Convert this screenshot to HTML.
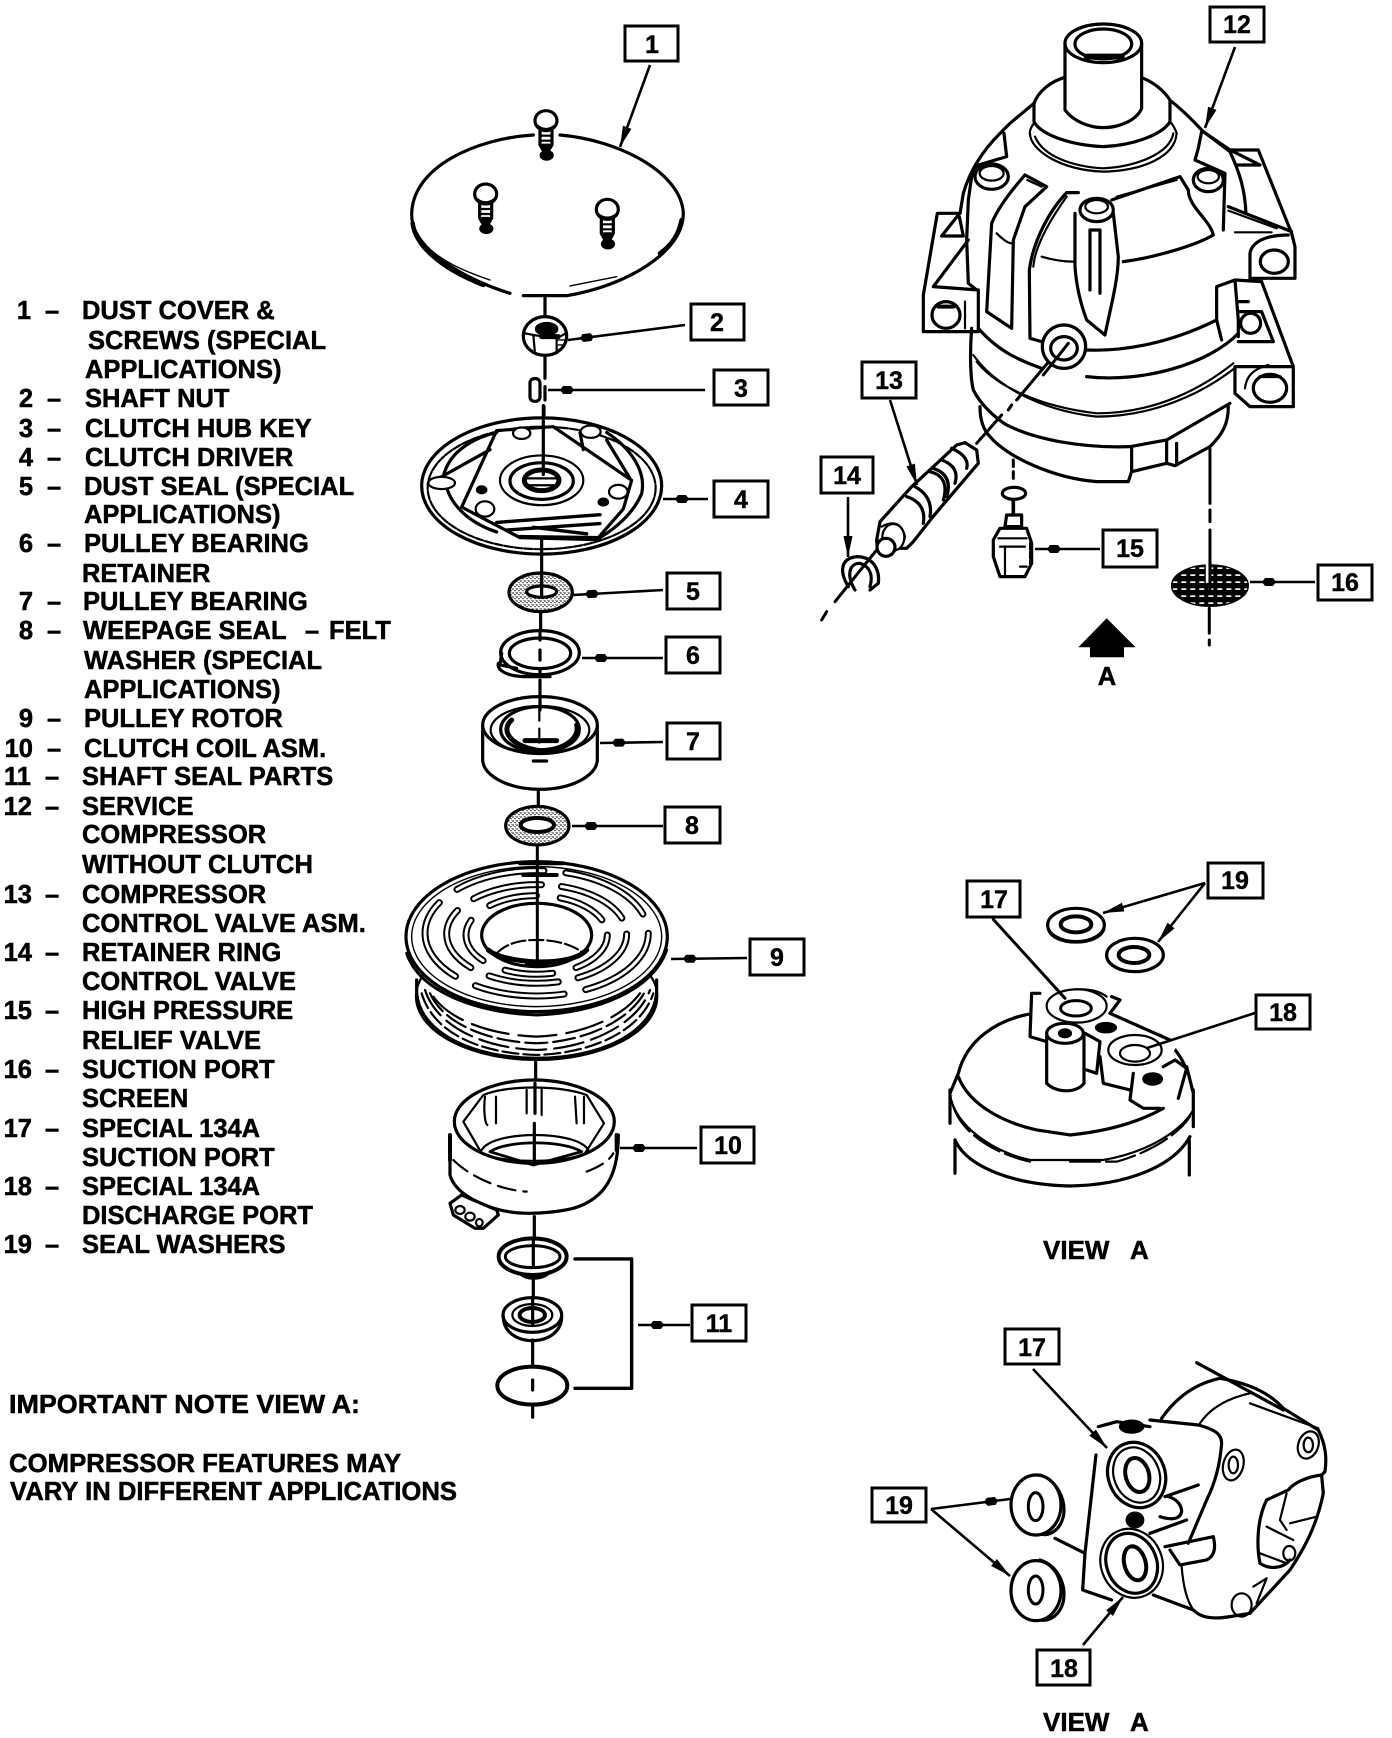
<!DOCTYPE html>
<html><head><meta charset="utf-8"><style>
html,body{margin:0;padding:0;background:#fff}
svg{display:block}
svg *{vector-effect:non-scaling-stroke}
.d{fill:none;stroke:#000;stroke-width:2.2;stroke-linejoin:round;stroke-linecap:round}
.t{fill:#000;stroke:#000;stroke-width:.5;font-family:"Liberation Sans",sans-serif;font-weight:bold;font-size:25.5px}
.l{fill:#000;stroke:#000;stroke-width:.4;font-family:"Liberation Sans",sans-serif;font-weight:bold;font-size:25px;text-anchor:middle}
.b{fill:#fff;stroke:#000;stroke-width:3}
.a{fill:none;stroke:#000;stroke-width:2.6}
.w{fill:#fff}
.k{fill:#000}
.h{stroke-width:3.2}
.n{stroke-width:1.4}
</style></head><body>
<svg width="1392" height="1738" viewBox="0 0 1392 1738" xmlns="http://www.w3.org/2000/svg">
<defs>
<marker id="m" markerUnits="userSpaceOnUse" markerWidth="24" markerHeight="12" refX="21" refY="6" orient="auto" overflow="visible"><path d="M0 1.5L21 6L0 10.5Z" fill="#000"/></marker>
<marker id="z" markerUnits="userSpaceOnUse" markerWidth="32" markerHeight="12" refX="26" refY="6" orient="auto" overflow="visible"><path d="M0 6L3 2H11L14 6L11 10H3Z" fill="#000"/></marker>
<pattern id="dots" patternUnits="userSpaceOnUse" width="12" height="12"><rect width="12" height="12" fill="#fff"/><circle cx="3" cy="3" r="2.4" fill="#000"/><circle cx="9" cy="8" r="2" fill="#000"/><circle cx="10" cy="1" r="1" fill="#000"/></pattern>
<pattern id="mesh" patternUnits="userSpaceOnUse" width="27" height="21"><rect width="27" height="21" fill="#000"/><rect x="4" y="4" width="15" height="5" fill="#fff"/></pattern>
<g id="screw" class="d"><ellipse cx="0" cy="0" rx="33" ry="30" class="d w h"/><path d="M-26 15C-10 28 10 28 26 15" /><path class="h" d="M-18 28V72L-2 100H2L18 72V28"/><path d="M-16 45H16M-16 60H16"/><path d="M-10 72L0 100L10 72Z" class="k"/><ellipse cx="2" cy="104" rx="18" ry="13" class="k"/></g>
</defs>

<!-- COVER / NUT / KEY -->
<g transform="translate(410,120) scale(.3333)" class="d">
<path class="h" d="M370 45C200 55 5 140 5 285C5 390 170 480 300 520M340 527H470C640 500 820 400 820 280C815 160 630 60 450 45"/>
<path stroke-width="4.5" d="M8 310C15 370 80 440 220 495M815 300C805 350 780 380 750 400"/>
<path class="n" d="M40 370C90 420 150 450 240 480M480 498L620 470"/>
<use href="#screw" x="408" y="2"/><use href="#screw" x="227" y="222"/><use href="#screw" x="592" y="268"/>
<path class="h" d="M405 530V592M405 705V775M405 800V840M402 860V885"/>
<ellipse cx="405" cy="648" rx="65" ry="58" class="h w"/>
<path d="M345 640L370 645L375 700M370 645L440 655V700M440 655L468 640"/>
<ellipse cx="410" cy="627" rx="32" ry="18" class="k"/><path stroke-width="5" d="M395 650H445"/>
<path class="n" d="M445 660H465M445 675H462"/>
<rect x="360" y="776" width="30" height="68" rx="13" class="h"/>
</g>

<!-- DRIVER -->
<g transform="translate(400,0) scale(.3333,.3827)" class="d">
<path class="h" d="M430 1060V1092"/>
<ellipse cx="425" cy="1270" rx="360" ry="178" class="h"/>
<ellipse cx="425" cy="1275" rx="342" ry="160" stroke-dasharray="8 2"/>
<path d="M130 1245C150 1170 240 1140 290 1130M620 1130C690 1170 740 1230 725 1290C700 1340 650 1380 590 1410M140 1275C160 1330 220 1370 290 1390" class="h"/>
<path class="h" d="M290 1125L185 1325L360 1405L590 1410L670 1330L695 1255L460 1115ZM85 1265L270 1175M620 1150L690 1250M540 1130L550 1175"/>
<ellipse cx="425" cy="1255" rx="125" ry="65"/><ellipse cx="425" cy="1257" rx="95" ry="48" class="h"/>
<ellipse cx="425" cy="1255" rx="52" ry="27" stroke-width="5"/>
<path d="M380 1250H470M385 1268H465"/>
<path class="h" d="M430 1100V1240"/>
<ellipse cx="365" cy="1132" rx="26" ry="15" class="w"/><ellipse cx="572" cy="1128" rx="30" ry="16" class="w"/><ellipse cx="125" cy="1262" rx="40" ry="16" class="w"/><ellipse cx="655" cy="1285" rx="28" ry="18" class="w"/><ellipse cx="255" cy="1330" rx="28" ry="20" class="w"/>
<ellipse cx="245" cy="1280" rx="14" ry="9" class="k"/><ellipse cx="610" cy="1312" rx="14" ry="9" class="k"/>
<path stroke-width="3.4" d="M290 1365L600 1345M320 1385L600 1368M360 1402L600 1405M400 1378L560 1395"/>
</g>

<!-- PARTS 5-9 -->
<g transform="translate(400,560) scale(.3333)" class="d">
<path class="h" d="M425 -60V40M422 160V210M420 360V410M415 690V735"/>
<ellipse cx="422" cy="97" rx="95" ry="58" class="h" style="fill:url(#dots)"/>
<ellipse cx="425" cy="95" rx="45" ry="17" class="w h"/>
<path class="h" d="M425 40V105"/>
<ellipse cx="420" cy="278" rx="118" ry="66" class="h"/><ellipse cx="420" cy="280" rx="92" ry="46" class="h"/>
<path d="M295 310C290 330 320 350 380 350H450M305 280L300 315L350 325" class="h"/><path class="h" d="M420 220V240M420 270V300M420 325V345"/>
<ellipse cx="420" cy="495" rx="172" ry="85" class="h"/>
<path class="h" d="M248 500V600C250 650 330 688 420 688C510 688 590 650 592 600V500"/>
<ellipse cx="420" cy="510" rx="148" ry="72"/><ellipse cx="420" cy="508" rx="118" ry="68" class="h"/>
<path stroke-width="5" d="M335 480C300 510 330 560 420 572C500 570 540 530 530 495"/>
<path d="M375 542H470" stroke-width="5"/>
<path d="M418 440V570" stroke-dasharray="14 8"/>
<path class="h" d="M420 410V450M400 603H440"/>
<ellipse cx="412" cy="797" rx="95" ry="58" style="fill:url(#dots)" class="h"/><ellipse cx="412" cy="795" rx="50" ry="21" class="w" stroke-width="4"/>
<ellipse cx="410" cy="1310" rx="362" ry="190" class="w"/>
<path d="M50 1260V1300C60 1420 220 1495 410 1495C600 1495 760 1420 770 1300V1260" class="h"/>
<path d="M75 1290C110 1400 250 1465 410 1470C570 1465 715 1390 750 1290" stroke-dasharray="30 8"/>
<path d="M90 1300C130 1390 260 1445 410 1450C560 1445 690 1380 735 1295" stroke-dasharray="22 6"/>
<path d="M65 1300C100 1420 240 1480 410 1485C580 1480 725 1410 760 1300" stroke-dasharray="16 5"/>
<path d="M100 1310C150 1380 270 1425 410 1430C550 1425 670 1370 720 1300" stroke-dasharray="38 10"/>
<ellipse cx="410" cy="1130" rx="392" ry="225" class="h w"/>
<ellipse cx="410" cy="1130" rx="375" ry="210" class="n"/>
<path d="M20 1180C60 1300 240 1360 410 1365C590 1360 760 1290 800 1170" stroke-width="3"/>
<ellipse cx="410" cy="1120" rx="335" ry="188" style="stroke-width:7;stroke-dasharray:90 22;stroke-linecap:round"/>
<ellipse cx="410" cy="1120" rx="335" ry="188" style="stroke:#fff;stroke-width:3;stroke-dasharray:90 22;stroke-linecap:round"/>
<ellipse cx="410" cy="1122" rx="270" ry="148" style="stroke-width:7;stroke-dasharray:70 20;stroke-linecap:round"/>
<ellipse cx="410" cy="1122" rx="270" ry="148" style="stroke:#fff;stroke-width:3;stroke-dasharray:70 20;stroke-linecap:round"/>
<ellipse cx="410" cy="1125" rx="212" ry="118" style="stroke-width:7;stroke-dasharray:48 24;stroke-linecap:round"/>
<ellipse cx="410" cy="1125" rx="212" ry="118" style="stroke:#fff;stroke-width:3;stroke-dasharray:48 24;stroke-linecap:round"/>
<ellipse cx="410" cy="1125" rx="165" ry="95" class="h w"/>
<path d="M290 1180C320 1150 360 1140 410 1140C470 1140 520 1155 550 1180" stroke-dasharray="14 4"/>
<path d="M265 1170C310 1210 510 1225 560 1170" stroke-width="5"/>
<path stroke-width="3" d="M412 860V1215"/>
<path stroke-width="4" d="M360 910H490M370 945H470M380 1215H440"/>
</g>

<!-- PARTS 10-11 -->
<g transform="translate(400,1060) scale(.3333)" class="d">
<path class="h" d="M407 0V60M403 470V535M400 650V715M398 840V915M398 960V990M398 1040V1072"/>
<path class="h" d="M150 225V345C170 420 300 450 300 450C400 475 520 445 520 445C620 415 655 340 655 225"/>
<ellipse cx="403" cy="185" rx="240" ry="125" class="h"/>
<path d="M190 185L250 105C320 75 480 75 560 105L612 190L555 280C500 310 300 310 245 280Z"/>
<path d="M245 270C280 210 530 210 565 270"/>
<path d="M270 275C320 240 490 240 545 275L400 315Z" stroke-width="2.8"/>
<path d="M255 110C250 150 255 190 262 195M288 110V190M380 90V160M425 85V165M525 110L530 190M552 110V190"/>
<path class="h" d="M405 70V160M403 190V310"/>
<path stroke-width="4" d="M150 225V300M650 225V270"/>
<path d="M160 300C210 350 300 390 380 395M560 335C600 320 630 300 640 280" stroke-dasharray="18 8"/>
<path class="h w" d="M185 405L150 430L160 465L225 505L250 505L295 465L290 450Z"/>
<ellipse cx="180" cy="450" rx="14" ry="12"/><ellipse cx="210" cy="470" rx="14" ry="12"/><ellipse cx="238" cy="488" rx="10" ry="11"/>
<ellipse cx="398" cy="590" rx="102" ry="55" stroke-width="4"/><ellipse cx="398" cy="590" rx="82" ry="33" stroke-width="3"/>
<path class="h" d="M360 640C380 660 430 660 450 635"/>
<path class="h" d="M400 540V620"/>
<ellipse cx="397" cy="765" rx="88" ry="52" class="h"/><ellipse cx="397" cy="765" rx="60" ry="33"/><ellipse cx="397" cy="765" rx="38" ry="21" stroke-width="4"/>
<path class="h" d="M310 770C310 815 350 842 397 842C445 842 485 815 485 770"/>
<path class="h" d="M398 720V795"/>
<ellipse cx="397" cy="977" rx="105" ry="57" stroke-width="4"/>
<path stroke-width="3.4" d="M525 597H695V985H525"/>
</g>

<!-- COMPRESSOR LOWER -->
<g transform="translate(820,300) scale(.3333)" class="d">
<path class="h" d="M455 85C450 150 450 230 460 270C480 310 520 350 560 375C650 420 790 445 930 440L1040 420L1230 310"/>
<path d="M460 165C520 250 650 330 830 350C1000 350 1150 280 1250 200M470 185C530 260 660 320 830 340C1000 340 1140 270 1240 190"/>
<path class="h" d="M480 320C480 360 490 390 510 410C560 470 700 535 830 545H925L935 515L1040 490L1065 497L1170 440C1210 400 1225 370 1225 320"/>
<path d="M935 445V515M1040 425V490M1070 430V495" class="h"/>
<path stroke-width="3" d="M745 115L590 300M575 315L565 330M545 345L470 430"/>
<path class="w h" d="M410 435L435 428L470 450L475 490L360 625L335 655L280 725L260 745L230 745C190 770 170 750 170 720L180 665L275 560L340 500Z"/>
<path d="M395 445Q450 470 440 505M365 480Q420 500 405 550M340 505Q400 525 380 590M330 515Q390 530 370 600M285 560Q340 590 330 650M260 590Q320 610 310 670" class="h"/>
<path d="M185 680Q240 650 255 710Q250 740 225 745"/>
<ellipse cx="220" cy="712" rx="33" ry="40" class="w"/><ellipse cx="198" cy="742" rx="27" ry="27" class="w h"/>
<path stroke-width="3" d="M170 750L45 905M20 935L5 960"/>
<path class="h" d="M85 860C55 810 65 775 110 770C160 770 180 810 175 850L150 870M105 870C80 830 85 790 120 790C150 800 160 825 150 860"/>
<path stroke-width="3" d="M580 480V500M580 515V535"/>
<ellipse cx="582" cy="580" rx="35" ry="18" class="h"/>
<path stroke-width="3.6" d="M580 600V640"/>
<path class="h" d="M560 645H605V680H555Z"/>
<path class="h" d="M540 685H620L635 730V790L615 830H540L520 770V720Z"/>
<path d="M535 715H620M540 740H615M555 745V830M600 800H620"/>
<path stroke-width="4" d="M633 730V790" stroke-dasharray="6 3"/>
<path stroke-width="3" d="M1170 445V610M1170 630V665M1170 690V790M1168 925V1000M1168 1020V1035"/>
<ellipse cx="1170" cy="857" rx="115" ry="62" style="fill:url(#mesh)" class="n"/>
<path stroke="#fff" stroke-width="3" d="M1162 795V845" style="stroke:#fff"/>
<path stroke-width="3" d="M1170 790V870"/>
<path class="k" style="stroke:none" d="M860 955L947 1042H912V1072H810V1042H775Z"/>
</g>

<!-- COMPRESSOR UPPER -->
<g transform="translate(910,0) scale(.3333)" class="d">
<path class="h" d="M465 130V330C490 365 540 383 580 383C630 383 680 360 695 325V130"/>
<ellipse cx="580" cy="130" rx="115" ry="58" class="h"/><ellipse cx="580" cy="132" rx="85" ry="45" class="h"/>
<path stroke-width="6" d="M530 170H635"/>
<path class="h" d="M465 232C420 245 385 275 372 310V365C390 400 470 435 580 440C680 435 760 400 780 365V300C760 270 735 250 700 235"/>
<path d="M360 400C360 450 450 510 580 515C700 512 795 470 800 400C795 385 790 375 780 365M372 370C360 385 358 395 360 405M375 410C400 470 490 500 580 505C680 500 780 460 790 400"/>
<path class="h" d="M372 310L300 370L270 400C220 450 180 510 160 580L150 640M785 305C830 340 860 375 880 395L960 455C990 520 1005 570 1008 640"/>
<path class="h" d="M282 400L290 470L205 495L185 530L175 600L170 720L175 850L200 870M875 395L865 445L855 480L945 520L940 690"/>
<path class="h" d="M880 395L960 450H1045L1145 700L1155 740V835H1020V760C1025 730 1060 705 1135 705M960 450L1050 495H980M955 620L1145 695"/>
<path d="M955 632L1100 685M975 697H1085"/>
<ellipse cx="1093" cy="785" rx="42" ry="35" class="h"/>
<path class="h" d="M150 640H82L40 885V995H205V870L70 860L175 720M145 645L95 708H160L148 650"/>
<ellipse cx="108" cy="945" rx="42" ry="40" class="h"/><path stroke-width="4" d="M85 920H130"/><path d="M165 905V985"/>
<ellipse cx="245" cy="530" rx="50" ry="38" class="w h"/><ellipse cx="245" cy="520" rx="36" ry="22"/>
<ellipse cx="895" cy="540" rx="45" ry="35" class="w h"/><ellipse cx="895" cy="530" rx="32" ry="20"/>
<path class="h" d="M345 525L410 560L345 620L310 720L305 985L230 935L245 670C265 620 310 565 345 525"/>
<path d="M352 540L395 560M260 700C280 720 295 730 305 730"/>
<path class="h" d="M470 578C420 630 370 720 358 810L360 1015L395 1025M470 578H505"/>
<path d="M470 590C420 660 375 740 370 800M395 770C430 780 460 785 490 785"/>
<path class="h" d="M495 640V800C500 870 515 920 530 960L585 1005C600 930 625 840 625 770L610 640"/>
<ellipse cx="560" cy="630" rx="50" ry="35" class="w h"/><ellipse cx="560" cy="620" rx="34" ry="20"/>
<path class="h" d="M540 690V870M570 690V880M540 690H570"/>
<path class="h" d="M605 600L810 530L835 570C835 620 900 660 910 705C850 740 720 775 640 785"/>
<path d="M620 590L800 540"/>
<path class="h" d="M205 985C270 1060 340 1085 395 1105M530 1050C640 1055 780 1030 920 960M530 1130C700 1150 900 1090 985 1000"/>
<path class="h" d="M975 840L920 860V960L935 1020M975 840L985 960V1010M975 840L1055 845"/>
<path class="h" d="M1055 845L1150 1100V1220H1020L975 1180V1100H1150"/>
<ellipse cx="1080" cy="1165" rx="50" ry="42" class="h"/><path stroke-width="3" d="M1050 1130H1110"/><path d="M1005 1165C1010 1120 1040 1105 1075 1095"/>
<path class="h" d="M985 935H1055L1090 1025H985M985 905H1015"/>
<ellipse cx="1022" cy="970" rx="30" ry="30" class="h"/>
<ellipse cx="462" cy="1040" rx="65" ry="65" class="h w"/><ellipse cx="462" cy="1045" rx="40" ry="35" class="h"/>
<path stroke-width="3" d="M475 1030L400 1125"/>
</g>

<!-- VIEW A top -->
<g transform="translate(930,860) scale(.3333)" class="d">
<path class="h" d="M355 205C365 260 510 260 522 205"/><ellipse cx="438" cy="195" rx="85" ry="50" class="h w"/><ellipse cx="438" cy="193" rx="46" ry="24" stroke-width="4"/>
<path class="h" d="M530 290C540 348 685 350 698 290"/><ellipse cx="615" cy="285" rx="85" ry="50" class="h w"/><ellipse cx="612" cy="285" rx="46" ry="24" stroke-width="4"/>
<path class="h" d="M300 462C200 480 110 540 85 640M570 462C660 490 740 550 770 630"/>
<path class="h" d="M85 650C120 740 230 790 320 810L420 825C520 815 620 790 700 745"/>
<path d="M60 700C70 800 200 880 300 900H520C640 880 750 820 790 750"/>
<path d="M70 740C100 830 210 885 300 905M420 905H560C650 880 740 830 780 770" stroke-dasharray="30 6"/>
<path class="h" d="M75 840C110 920 250 975 420 978C590 975 730 920 780 830"/>
<path class="h" d="M60 690V790M790 690V800M75 840V940M778 840V945M60 700L85 640M770 620L790 700"/>
<path class="h w" d="M330 400H305L300 530L350 560L510 640L600 690L700 620L740 560L570 420L545 410Z" style="stroke:none"/>
<path class="h" d="M330 400H305L300 530L350 545M545 410L570 420L540 460L720 540M465 520L510 545L500 640L470 630M510 590L520 670L600 690M610 640L600 720L640 745L690 745M700 620L735 600L770 625L745 715"/>
<ellipse cx="440" cy="438" rx="90" ry="50" class="w"/><ellipse cx="438" cy="445" rx="46" ry="23" stroke-width="3"/>
<path d="M380 400C430 380 500 385 530 410"/>
<path stroke-width="3" d="M190 178L405 415"/>
<path class="h w" d="M350 530V670C380 700 440 700 462 670V530"/>
<ellipse cx="405" cy="520" rx="55" ry="30" class="h w"/><ellipse cx="405" cy="520" rx="18" ry="12" class="k"/>
<ellipse cx="615" cy="570" rx="80" ry="45" class="w"/><ellipse cx="615" cy="580" rx="45" ry="25"/>
<ellipse cx="528" cy="503" rx="30" ry="14" class="k"/><ellipse cx="668" cy="657" rx="28" ry="17" class="k"/>
</g>

<!-- VIEW A bottom -->
<g transform="translate(860,1320) scale(.3333)" class="d">
<path class="h" d="M540 465C590 480 620 540 610 590C600 630 570 650 540 642"/>
<ellipse cx="528" cy="555" rx="75" ry="90" class="h w"/><ellipse cx="527" cy="560" rx="22" ry="42" stroke-width="3"/>
<path class="h" d="M540 720C590 735 620 790 610 845C600 885 570 905 540 900"/>
<ellipse cx="528" cy="812" rx="75" ry="90" class="h w"/><ellipse cx="527" cy="810" rx="22" ry="42" stroke-width="3"/>
<path class="h" d="M708 405L675 700M585 655L675 700M675 700L668 810L755 840"/>
<path class="h" d="M715 320L770 305L870 320M905 295C950 230 1010 190 1080 175C1170 190 1230 220 1270 265L1375 330C1400 380 1400 420 1395 455L1385 465L1390 520C1370 620 1330 690 1290 750L1170 880L1110 890C1050 900 1020 890 1000 870L880 825"/>
<path class="h" d="M1010 128L1270 270"/>
<path d="M1170 250L1375 325M1020 310C1040 280 1080 240 1170 220"/>
<path class="h" d="M870 300L1015 315C1070 330 1085 345 1085 370C1080 440 1060 500 1040 540L985 670"/>
<path class="h" d="M915 530L1015 495M870 640L980 600M915 680L1060 650C1070 690 1060 710 1040 720L960 735L930 690"/>
<path class="h" d="M925 530C960 540 965 565 965 575C960 600 930 600 900 590"/>
<path d="M965 740C970 800 980 840 1000 870"/>
<ellipse cx="1120" cy="435" rx="30" ry="47" transform="rotate(15 1120 435)"/><ellipse cx="1120" cy="435" rx="14" ry="25"/>
<ellipse cx="1345" cy="375" rx="30" ry="42" transform="rotate(20 1345 375)"/><ellipse cx="1345" cy="375" rx="14" ry="22"/>
<path class="h" d="M1385 465C1340 470 1300 490 1285 510L1220 540C1190 600 1190 680 1200 730C1230 750 1270 745 1290 720"/>
<path d="M1220 620L1300 660M1200 700L1280 730M1280 520L1260 600L1280 630M1290 610L1370 590"/>
<ellipse cx="1288" cy="700" rx="18" ry="22"/>
<ellipse cx="1145" cy="855" rx="30" ry="35"/><path d="M1180 800L1220 775L1190 850"/>
<ellipse cx="830" cy="465" rx="85" ry="100" transform="rotate(-22 830 465)" class="h w"/>
<ellipse cx="830" cy="465" rx="68" ry="85" transform="rotate(-22 830 465)"/><ellipse cx="832" cy="465" rx="35" ry="52" transform="rotate(-15 832 465)" stroke-width="4"/>
<ellipse cx="815" cy="730" rx="92" ry="105" transform="rotate(-22 815 730)" class="w"/>
<ellipse cx="815" cy="730" rx="75" ry="92" transform="rotate(-22 815 730)" class="h"/><ellipse cx="825" cy="730" rx="32" ry="52" transform="rotate(-15 825 730)" stroke-width="4"/>
<ellipse cx="815" cy="320" rx="35" ry="18" class="k"/>
<ellipse cx="825" cy="600" rx="25" ry="22" class="k"/>
</g>

<!-- LEADERS -->
<g class="a">
<path d="M650 65L620 147" marker-end="url(#m)"/>
<path d="M685 325L568 340" marker-end="url(#z)"/>
<path d="M705 390H548" marker-end="url(#z)"/>
<path d="M708 499H663" marker-end="url(#z)"/>
<path d="M663 590L573 595" marker-end="url(#z)"/>
<path d="M663 658H582" marker-end="url(#z)"/>
<path d="M663 742L600 743" marker-end="url(#z)"/>
<path d="M663 826H572" marker-end="url(#z)"/>
<path d="M747 958L671 959" marker-end="url(#z)"/>
<path d="M697 1148H620" marker-end="url(#z)"/>
<path d="M690 1325H638" marker-end="url(#z)"/>
<path d="M1235 47L1205 128" marker-end="url(#m)"/>
<path d="M890 400L917 485" marker-end="url(#m)"/>
<path d="M848 497V557" marker-end="url(#m)"/>
<path d="M1100 549H1035" marker-end="url(#z)"/>
<path d="M1315 582H1250" marker-end="url(#z)"/>
<path d="M1255 1013L1147 1048"/>
<path d="M1205 883L1103 913" marker-end="url(#m)"/>
<path d="M1205 883L1158 942" marker-end="url(#m)"/>
<path d="M1033 1369L1107 1448" marker-end="url(#m)"/>
<path d="M1083 1645L1123 1597" marker-end="url(#m)"/>
<path d="M931 1509L1010 1499" marker-end="url(#z)"/>
<path d="M931 1509L1010 1576" marker-end="url(#m)"/>
</g>

<!-- BOXES -->
<rect class="b" x="625" y="26" width="53" height="35"/><text class="l" x="652" y="53">1</text>
<rect class="b" x="691" y="304" width="53" height="36"/><text class="l" x="717" y="331">2</text>
<rect class="b" x="714" y="370" width="54" height="35"/><text class="l" x="741" y="397">3</text>
<rect class="b" x="714" y="481" width="54" height="36"/><text class="l" x="741" y="508">4</text>
<rect class="b" x="667" y="573" width="53" height="36"/><text class="l" x="693" y="600">5</text>
<rect class="b" x="666" y="637" width="54" height="36"/><text class="l" x="693" y="664">6</text>
<rect class="b" x="667" y="723" width="53" height="36"/><text class="l" x="693" y="750">7</text>
<rect class="b" x="665" y="807" width="55" height="36"/><text class="l" x="692" y="834">8</text>
<rect class="b" x="750" y="939" width="54" height="36"/><text class="l" x="777" y="966">9</text>
<rect class="b" x="701" y="1127" width="53" height="36"/><text class="l" x="728" y="1154">10</text>
<rect class="b" x="692" y="1305" width="54" height="36"/><text class="l" x="719" y="1332">11</text>
<rect class="b" x="1210" y="7" width="54" height="35"/><text class="l" x="1237" y="33">12</text>
<rect class="b" x="862" y="362" width="54" height="36"/><text class="l" x="889" y="389">13</text>
<rect class="b" x="821" y="457" width="52" height="36"/><text class="l" x="847" y="484">14</text>
<rect class="b" x="1103" y="530" width="54" height="37"/><text class="l" x="1130" y="557">15</text>
<rect class="b" x="1318" y="565" width="54" height="35"/><text class="l" x="1345" y="591">16</text>
<rect class="b" x="967" y="881" width="53" height="36"/><text class="l" x="994" y="908">17</text>
<rect class="b" x="1208" y="863" width="55" height="35"/><text class="l" x="1235" y="889">19</text>
<rect class="b" x="1256" y="995" width="54" height="34"/><text class="l" x="1283" y="1021">18</text>
<rect class="b" x="1005" y="1329" width="54" height="35"/><text class="l" x="1032" y="1356">17</text>
<rect class="b" x="872" y="1488" width="54" height="34"/><text class="l" x="899" y="1514">19</text>
<rect class="b" x="1037" y="1650" width="53" height="35"/><text class="l" x="1064" y="1677">18</text>

<!-- LEGEND -->
<g class="t">
<text x="31" y="319" text-anchor="end">1</text><text x="45" y="319">–</text><text x="82" y="319">DUST COVER &amp;</text>
<text x="88" y="349">SCREWS (SPECIAL</text>
<text x="85" y="378">APPLICATIONS)</text>
<text x="33" y="407" text-anchor="end">2</text><text x="47" y="407">–</text><text x="85" y="407">SHAFT NUT</text>
<text x="33" y="437" text-anchor="end">3</text><text x="47" y="437">–</text><text x="85" y="437">CLUTCH HUB KEY</text>
<text x="33" y="466" text-anchor="end">4</text><text x="47" y="466">–</text><text x="85" y="466">CLUTCH DRIVER</text>
<text x="33" y="495" text-anchor="end">5</text><text x="47" y="495">–</text><text x="84" y="495">DUST SEAL (SPECIAL</text>
<text x="84" y="523">APPLICATIONS)</text>
<text x="33" y="552" text-anchor="end">6</text><text x="47" y="552">–</text><text x="84" y="552">PULLEY BEARING</text>
<text x="82" y="582">RETAINER</text>
<text x="33" y="610" text-anchor="end">7</text><text x="47" y="610">–</text><text x="83" y="610">PULLEY BEARING</text>
<text x="33" y="639" text-anchor="end">8</text><text x="47" y="639">–</text><text x="83" y="639">WEEPAGE SEAL</text><text x="305" y="639">–</text><text x="329" y="639">FELT</text>
<text x="84" y="669">WASHER (SPECIAL</text>
<text x="84" y="698">APPLICATIONS)</text>
<text x="33" y="727" text-anchor="end">9</text><text x="47" y="727">–</text><text x="84" y="727">PULLEY ROTOR</text>
<text x="33" y="757" text-anchor="end">10</text><text x="47" y="757">–</text><text x="84" y="757">CLUTCH COIL ASM.</text>
<text x="31" y="785" text-anchor="end">11</text><text x="45" y="785">–</text><text x="82" y="785">SHAFT SEAL PARTS</text>
<text x="32" y="815" text-anchor="end">12</text><text x="45" y="815">–</text><text x="82" y="815">SERVICE</text>
<text x="82" y="843">COMPRESSOR</text>
<text x="82" y="873">WITHOUT CLUTCH</text>
<text x="32" y="903" text-anchor="end">13</text><text x="45" y="903">–</text><text x="82" y="903">COMPRESSOR</text>
<text x="82" y="932">CONTROL VALVE ASM.</text>
<text x="32" y="961" text-anchor="end">14</text><text x="45" y="961">–</text><text x="82" y="961">RETAINER RING</text>
<text x="82" y="990">CONTROL VALVE</text>
<text x="32" y="1019" text-anchor="end">15</text><text x="45" y="1019">–</text><text x="82" y="1019">HIGH PRESSURE</text>
<text x="82" y="1049">RELIEF VALVE</text>
<text x="32" y="1078" text-anchor="end">16</text><text x="45" y="1078">–</text><text x="82" y="1078">SUCTION PORT</text>
<text x="82" y="1107">SCREEN</text>
<text x="32" y="1137" text-anchor="end">17</text><text x="45" y="1137">–</text><text x="82" y="1137">SPECIAL 134A</text>
<text x="82" y="1166">SUCTION PORT</text>
<text x="32" y="1195" text-anchor="end">18</text><text x="45" y="1195">–</text><text x="82" y="1195">SPECIAL 134A</text>
<text x="82" y="1224">DISCHARGE PORT</text>
<text x="32" y="1253" text-anchor="end">19</text><text x="45" y="1253">–</text><text x="82" y="1253">SEAL WASHERS</text>
<text x="9" y="1413" textLength="351" lengthAdjust="spacingAndGlyphs">IMPORTANT NOTE VIEW A:</text>
<text x="9" y="1472" textLength="392" lengthAdjust="spacingAndGlyphs">COMPRESSOR FEATURES MAY</text>
<text x="10" y="1500" textLength="447" lengthAdjust="spacingAndGlyphs">VARY IN DIFFERENT APPLICATIONS</text>
<text x="1043" y="1259" font-size="26">VIEW</text><text x="1130" y="1259" font-size="26">A</text>
<text x="1043" y="1731" font-size="26">VIEW</text><text x="1130" y="1731" font-size="26">A</text>
<text x="1107" y="685" text-anchor="middle">A</text>
</g>
</svg>
</body></html>
